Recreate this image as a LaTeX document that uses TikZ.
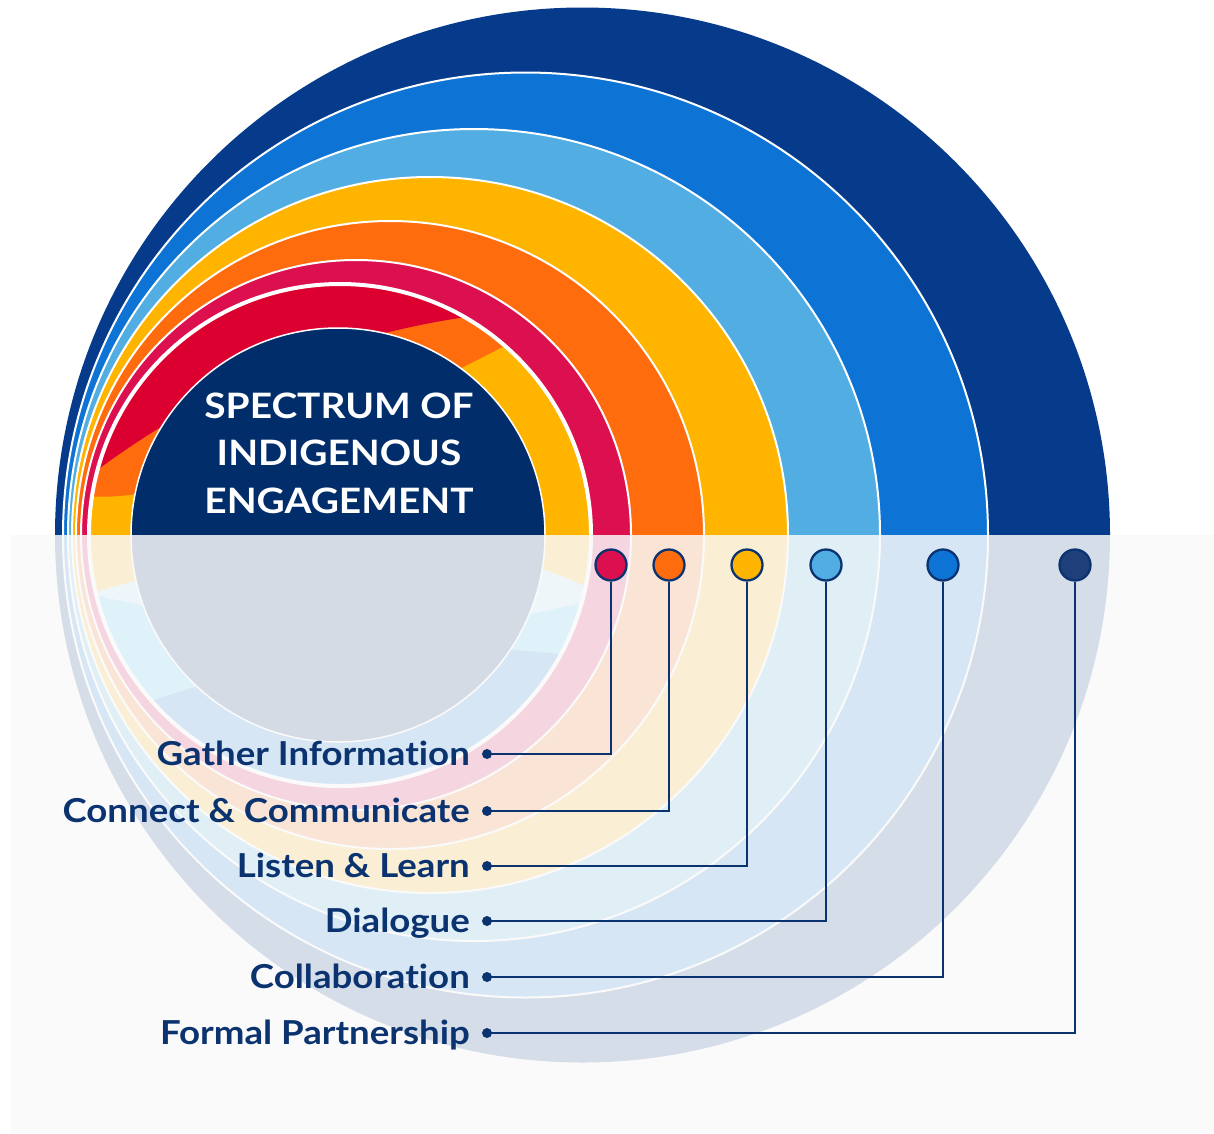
\documentclass[tikz,border=0pt]{standalone}
\usepackage{fontspec}
\setmainfont{Lato}[FakeStretch=1.11,Ligatures=NoCommon]
\definecolor{cNavy}{HTML}{063B8C}
\definecolor{cBlue}{HTML}{0D74D6}
\definecolor{cLBlue}{HTML}{52AEE2}
\definecolor{cYellow}{HTML}{FFB400}
\definecolor{cOrange}{HTML}{FF6C0E}
\definecolor{cCrimson}{HTML}{DC0F4F}
\definecolor{cRed}{HTML}{DC0030}
\definecolor{cCenter}{HTML}{022D6B}
\definecolor{cPale}{HTML}{B6E5FF}
\definecolor{cCyan}{HTML}{4AC3F9}
\definecolor{cOver}{RGB}{250,250,250}
\definecolor{cText}{HTML}{0B3370}
\definecolor{cDotNavy}{HTML}{1F3F7A}
\begin{document}
\begin{tikzpicture}[x=1pt,y=-1pt,
  ring/.style={draw=white,line width=2pt},
  dotmark/.style={circle,draw=cText,line width=2.3pt,minimum size=31pt,inner sep=0pt},
  bullet/.style={circle,fill=cText,minimum size=10pt,inner sep=0pt},
  lbl/.style={anchor=base east,inner sep=0pt,text=cText,font=\fontsize{33}{40}\selectfont\bfseries},
  conn/.style={draw=cText,line width=2pt},
  title/.style={align=center,text=white,inner sep=0pt,font=\fontsize{35}{47.5}\selectfont\bfseries}]
\useasboundingbox (0,0) rectangle (1214,1133);
\fill[white] (0,0) rectangle (1214,1133);
% nested rings
\fill[cNavy] (582.5,535) circle (527.5pt);
\filldraw[fill=cBlue,ring] (525.5,535) circle (462.5pt);
\filldraw[fill=cLBlue,ring] (474,535) circle (406pt);
\filldraw[fill=cYellow,ring] (430,535) circle (358pt);
\filldraw[fill=cOrange,ring] (390,535) circle (314pt);
\filldraw[fill=cCrimson,ring] (356,535) circle (275pt);
% swirl disk
\begin{scope}
  \clip (340,535) circle (251pt);
  \fill[cYellow] (80,270) rectangle (600,535);
  \fill[cOrange] (80,495) .. controls (180,512) and (400,400) .. (520,338) -- (520,270) -- (80,270) -- cycle;
  \fill[cRed] (80,483) .. controls (200,390) and (330,335) .. (480,315) -- (480,270) -- (80,270) -- cycle;
  \begin{scope}
    \clip (80,535) rectangle (600,800);
    \fill[cYellow] (80,535) rectangle (600,800);
    \fill[cPale] (85,596) .. controls (200,555) and (470,515) .. (600,595) -- (600,800) -- (85,800) -- cycle;
    \fill[cCyan] (85,593) .. controls (250,630) and (400,650) .. (600,598) -- (600,800) -- (85,800) -- cycle;
    \fill[cBlue] (100,720) .. controls (250,660) and (420,630) .. (600,660) -- (600,800) -- (85,800) -- cycle;
  \end{scope}
\end{scope}
\draw[white,line width=4pt] (340,535) circle (251pt);
\filldraw[fill=cCenter,draw=white,line width=1.5pt] (338,535) circle (207pt);
% title
\node[title] (title) at (339,453) {SPECTRUM OF\\INDIGENOUS\\ENGAGEMENT};
% lower translucent panel
\fill[cOver,opacity=0.85] (11,535) rectangle (1214,1133);
% markers
\node[dotmark,fill=cCrimson] (d1) at (611,565) {};
\node[dotmark,fill=cOrange] (d2) at (669,565) {};
\node[dotmark,fill=cYellow] (d3) at (747,565) {};
\node[dotmark,fill=cLBlue] (d4) at (826,565) {};
\node[dotmark,fill=cBlue] (d5) at (943,565) {};
\node[dotmark,fill=cDotNavy] (d6) at (1075,565) {};
% bullets
\node[bullet] (b1) at (487,754) {};
\node[bullet] (b2) at (487,811) {};
\node[bullet] (b3) at (487,866) {};
\node[bullet] (b4) at (487,921) {};
\node[bullet] (b5) at (487,977) {};
\node[bullet] (b6) at (487,1033) {};
% labels
\node[lbl] (l1) at (470,765) {Gather Information};
\node[lbl] (l2) at (470,822) {Connect \& Communicate};
\node[lbl] (l3) at (470,877) {Listen \& Learn};
\node[lbl] (l4) at (470,932) {Dialogue};
\node[lbl] (l5) at (470,988) {Collaboration};
\node[lbl] (l6) at (470,1044) {Formal Partnership};
% connectors
\draw[conn] (d1.south) |- (b1.center);
\draw[conn] (d2.south) |- (b2.center);
\draw[conn] (d3.south) |- (b3.center);
\draw[conn] (d4.south) |- (b4.center);
\draw[conn] (d5.south) |- (b5.center);
\draw[conn] (d6.south) |- (b6.center);
\end{tikzpicture}
\end{document}
